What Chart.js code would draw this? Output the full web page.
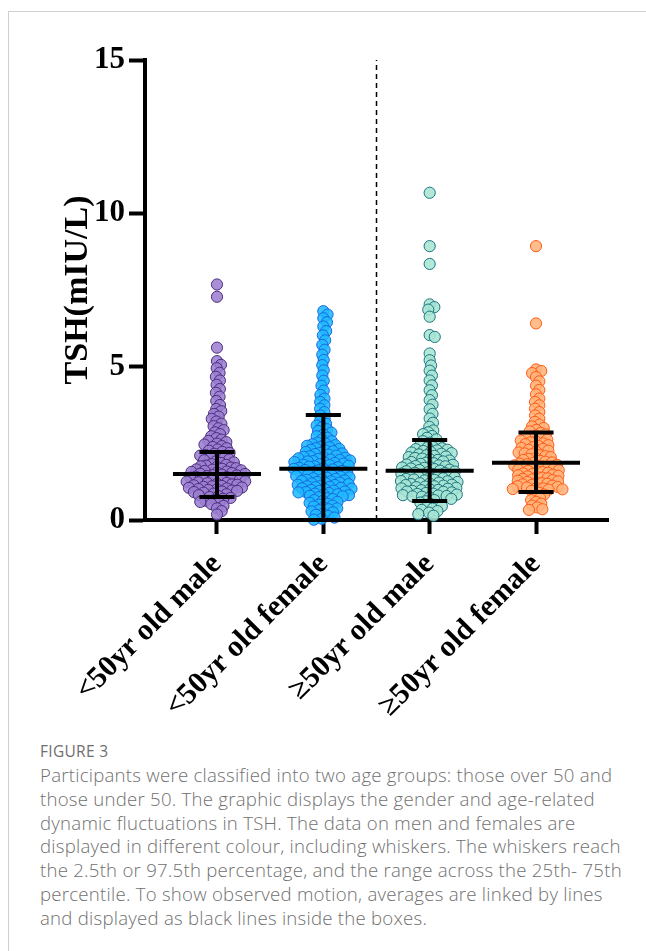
<!DOCTYPE html>
<html>
<head>
<meta charset="utf-8">
<script src="https://cdn.jsdelivr.net/npm/chart.js@4/dist/chart.umd.min.js"></script>
<style>
  html, body { margin: 0; padding: 0; background: #fff; }
  body { width: 646px; height: 951px; position: relative; overflow: hidden; }
  .frame { position: absolute; left: 8px; top: 11px; right: 0; bottom: 0;
           border-left: 1px solid #cfcfcf; border-top: 1px solid #cfcfcf; }
  .plot { position: absolute; left: 0; top: 0; width: 646px; height: 730px; }
  .fig { position: absolute; left: 40px; top: 743px; font-family: "Open Sans", sans-serif;
         font-size: 15.5px; letter-spacing: 0.3px; line-height: 17px; color: #6e6e6e; white-space: nowrap; }
  .cap { position: absolute; left: 40px; top: 763px; font-family: "Open Sans", sans-serif;
         font-size: 18.6px; letter-spacing: 0.25px; line-height: 23.8px; color: #707070; white-space: nowrap; font-weight: 300; }
</style>
</head>
<body>
<div class="frame"></div>
<div class="plot"><canvas id="c" width="646" height="730"></canvas></div>
<div class="fig">FIGURE 3</div>
<div class="cap">Participants were classified into two age groups: those over 50 and<br>those under 50. The graphic displays the gender and age-related<br>dynamic fluctuations in TSH. The data on men and females are<br>displayed in different colour, including whiskers. The whiskers reach<br>the 2.5th or 97.5th percentage, and the range across the 25th- 75th<br>percentile. To show observed motion, averages are linked by lines<br>and displayed as black lines inside the boxes.</div>
<script>
// ---------------- data ----------------
const categories = ['<50yr old male', '<50yr old female', '\u226550yr old male', '\u226550yr old female'];
const yTicks = [0, 5, 10, 15];
const yTitle = 'TSH(mIU/L)';

const under50Male = [7.68, 7.28, 5.62,
  5.18, 5.06, 4.95, 4.80, 4.67, 4.55, 4.41, 4.27, 4.15, 4.02, 3.88, 3.75,
  3.62, 3.55, 3.46, 3.37, 3.30, 3.21, 3.14, 3.06, 2.99, 2.93, 2.86, 2.80, 2.73, 2.67, 2.62,
  2.58, 2.54, 2.49, 2.46, 2.41, 2.38, 2.34, 2.30, 2.26, 2.22,
  2.19, 2.16, 2.12, 2.10, 2.06, 2.03, 2.01, 1.97, 1.95, 1.91, 1.88, 1.86, 1.82, 1.80, 1.77,
  1.75, 1.73, 1.71, 1.69, 1.67, 1.65, 1.64, 1.62, 1.60, 1.58, 1.57, 1.55, 1.53, 1.51, 1.50,
  1.48, 1.46, 1.45, 1.43, 1.41, 1.40, 1.38, 1.36, 1.35, 1.33, 1.31, 1.30, 1.28, 1.26, 1.25,
  1.23, 1.21, 1.20, 1.18, 1.16, 1.15, 1.13, 1.11, 1.10, 1.08, 1.06, 1.05, 1.03, 1.01, 1.00,
  0.98, 0.96, 0.95, 0.93, 0.91,
  0.89, 0.86, 0.84, 0.81, 0.78, 0.75, 0.72, 0.69, 0.66, 0.63, 0.59, 0.56, 0.52,
  0.46, 0.38, 0.29, 0.18];

const under50Female = [6.81, 6.70, 6.58, 6.45, 6.31, 6.16, 6.02, 5.86, 5.71, 5.55, 5.39, 5.22,
  5.05, 4.88, 4.71, 4.54, 4.38, 4.22,
  4.08, 3.96, 3.85, 3.74, 3.63, 3.52, 3.41, 3.31, 3.22,
  3.14, 3.08, 3.02, 2.96, 2.90, 2.85, 2.79, 2.73, 2.68, 2.62, 2.57, 2.52,
  2.49, 2.47, 2.44, 2.42, 2.39, 2.37, 2.34, 2.32, 2.29, 2.27, 2.24, 2.22, 2.19, 2.17, 2.15, 2.13, 2.10, 2.08,
  2.06, 2.04, 2.03, 2.01, 1.99, 1.97, 1.96, 1.94, 1.92, 1.91, 1.89, 1.87, 1.86, 1.84, 1.82, 1.80,
  1.79, 1.77, 1.75, 1.74, 1.72, 1.70, 1.68, 1.67, 1.65, 1.63, 1.62, 1.60, 1.58, 1.56, 1.55, 1.53,
  1.51, 1.50, 1.48, 1.46, 1.44, 1.43, 1.41, 1.39, 1.38, 1.36, 1.34, 1.32, 1.31, 1.29, 1.27, 1.26,
  1.24, 1.22, 1.20, 1.19, 1.17, 1.15, 1.14, 1.12, 1.10, 1.08, 1.07, 1.05, 1.03, 1.02, 1.00, 0.98,
  0.96, 0.95, 0.93, 0.91, 0.90, 0.88, 0.86, 0.84, 0.83, 0.81, 0.79, 0.77,
  0.74, 0.71, 0.68, 0.65, 0.62, 0.59, 0.56, 0.53, 0.50, 0.47, 0.44, 0.41, 0.38, 0.35, 0.32, 0.28,
  0.25, 0.21, 0.17, 0.13, 0.08, 0.04, 0.01];

const over50Male = [10.67, 8.93, 8.35, 7.03, 6.94, 6.86, 6.63, 6.03, 5.97, 5.43,
  5.21, 5.04, 4.87, 4.71, 4.55, 4.39, 4.23, 4.07, 3.91, 3.76, 3.61, 3.46, 3.31, 3.17, 3.04,
  2.92, 2.86, 2.80, 2.74, 2.68, 2.63, 2.57, 2.52, 2.47, 2.42,
  2.38, 2.36, 2.34, 2.31, 2.29, 2.27, 2.25, 2.22, 2.20, 2.18, 2.16, 2.14, 2.11, 2.09, 2.07, 2.05,
  2.02, 2.00, 1.98, 1.96, 1.94, 1.91, 1.89, 1.87, 1.85,
  1.83, 1.81, 1.80, 1.78, 1.76, 1.75, 1.73, 1.71, 1.70, 1.68, 1.66, 1.64, 1.63, 1.61, 1.59, 1.58,
  1.56, 1.54, 1.53, 1.51, 1.49, 1.48, 1.46, 1.44, 1.43, 1.41, 1.39, 1.37, 1.36, 1.34, 1.32, 1.31,
  1.29, 1.27, 1.26, 1.24, 1.22, 1.20, 1.19, 1.17, 1.15, 1.14, 1.12, 1.10, 1.09, 1.07, 1.05, 1.03,
  1.02, 1.00, 0.98, 0.97, 0.95, 0.93, 0.92, 0.90, 0.88, 0.86, 0.85, 0.83, 0.81, 0.80, 0.78, 0.77, 0.76,
  0.73, 0.69, 0.65, 0.61, 0.57, 0.53, 0.49, 0.45, 0.41, 0.37, 0.33, 0.29, 0.24, 0.19, 0.14];

const over50Female = [8.93, 6.41,
  4.91, 4.86, 4.79, 4.66, 4.52, 4.38, 4.24, 4.10,
  3.96, 3.85, 3.74, 3.63, 3.52, 3.41, 3.30, 3.20,
  3.11, 3.05, 3.00, 2.94, 2.89, 2.84, 2.79, 2.75,
  2.71, 2.68, 2.65, 2.62, 2.59, 2.56, 2.53, 2.50, 2.47, 2.44, 2.41, 2.38, 2.35, 2.32, 2.29, 2.26,
  2.23, 2.20, 2.17, 2.14, 2.11, 2.08, 2.05, 2.02, 1.99, 1.96, 1.93, 1.90, 1.88, 1.86,
  1.84, 1.82, 1.80, 1.78, 1.76, 1.74, 1.72, 1.70, 1.68, 1.66, 1.64, 1.62, 1.60, 1.58, 1.56, 1.54,
  1.52, 1.50, 1.48, 1.46, 1.44, 1.42, 1.40, 1.38, 1.36, 1.34, 1.32, 1.30, 1.28, 1.26, 1.24, 1.22,
  1.20, 1.18, 1.16, 1.14, 1.12, 1.10, 1.08, 1.06, 1.04, 1.03, 1.01, 1.00, 0.99,
  0.95, 0.89, 0.83, 0.77, 0.71, 0.65, 0.59, 0.53, 0.47, 0.41, 0.35, 0.33];

const groupMeans = [1.50, 1.67, 1.61, 1.87];
const whiskerUpper = [2.22, 3.42, 2.61, 2.85];
const whiskerLower = [0.75, 0.00, 0.62, 0.91];

const fillColors = ['rgba(156,128,208,0.88)', 'rgba(32,186,255,0.88)', 'rgba(168,229,212,0.88)', 'rgba(255,180,124,0.88)'];
const edgeColors = ['#4b2d80', '#1769e0', '#1b7480', '#ff5a14'];
const groups = [under50Male, under50Female, over50Male, over50Female];
const dividerAfterGroup = 2;

// ---------------- chart ----------------
const MEAN_HALF = 0.414, CAP_HALF = 0.165;
const serif = '"Liberation Serif", "Times New Roman", serif';

function barSegments() {
  const pts = [];
  const gap = { x: null, y: null };
  groupMeans.forEach((m, i) => {
    const g = i + 1;
    pts.push({ x: g - MEAN_HALF, y: m }, { x: g + MEAN_HALF, y: m }, gap);
    pts.push({ x: g, y: whiskerLower[i] }, { x: g, y: whiskerUpper[i] }, gap);
    pts.push({ x: g - CAP_HALF, y: whiskerUpper[i] }, { x: g + CAP_HALF, y: whiskerUpper[i] }, gap);
    pts.push({ x: g - CAP_HALF, y: whiskerLower[i] }, { x: g + CAP_HALF, y: whiskerLower[i] }, gap);
  });
  return pts;
}

const datasets = [];
datasets.push({
  type: 'line', label: 'bars', data: barSegments(), order: -2,
  borderColor: '#000', borderWidth: 4, pointRadius: 0, spanGaps: false,
  borderCapStyle: 'butt', clip: false
});
datasets.push({
  type: 'line', label: 'divider', order: -1,
  data: [{ x: dividerAfterGroup + 0.5, y: yTicks[0] }, { x: dividerAfterGroup + 0.5, y: yTicks[yTicks.length - 1] }],
  borderColor: '#000', borderWidth: 1.5, borderDash: [5, 4], pointRadius: 0, clip: false
});
groups.forEach((vals, i) => {
  datasets.push({
    type: 'scatter', label: categories[i], order: 1,
    data: vals.map(v => ({ x: i + 1, y: v })),
    backgroundColor: fillColors[i], borderColor: edgeColors[i],
    borderWidth: 1, pointRadius: 5.6, pointHoverRadius: 5.6, clip: false
  });
});

const chart = new Chart(document.getElementById('c'), {
  type: 'scatter',
  data: { datasets },
  options: {
    responsive: false, animation: false, events: [],
    layout: { padding: { top: 60, right: 38, left: 0, bottom: 0 } },
    plugins: { legend: { display: false }, tooltip: { enabled: false } },
    scales: {
      x: {
        type: 'linear', min: 0.323, max: 4.677,
        afterBuildTicks: s => { s.ticks = categories.map((_, i) => ({ value: i + 1 })); },
        afterFit: s => { s.height = 210; },
        ticks: {
          autoSkip: false, maxRotation: 45, minRotation: 45, padding: 13,
          color: '#000', font: { family: serif, size: 30, weight: 'bold' },
          callback: v => categories[Math.round(v) - 1] || ''
        },
        grid: { drawOnChartArea: false, drawTicks: true, tickLength: 14, tickWidth: 4, tickColor: '#000' },
        border: { display: true, color: '#000', width: 4 }
      },
      y: {
        type: 'linear', min: yTicks[0], max: yTicks[yTicks.length - 1],
        afterBuildTicks: s => { s.ticks = yTicks.map(v => ({ value: v })); },
        afterFit: s => { s.width = 145; },
        ticks: { padding: 4, color: '#000', font: { family: serif, size: 31, weight: 'bold' } },
        grid: { drawOnChartArea: false, drawTicks: true, tickLength: 16, tickWidth: 4, tickColor: '#000' },
        border: { display: true, color: '#000', width: 4 },
        title: { display: true, text: yTitle, color: '#000', padding: { top: 58, bottom: 0 },
                 font: { family: serif, size: 34, weight: 'bold' } }
      }
    }
  }
});

// beeswarm layout in pixel space, mapped back through the library's scales
function swarmOffsets(values, d, yScale) {
  const pts = values.map((v, i) => ({ i, py: yScale.getPixelForValue(v), dx: 0 }));
  const order = pts.slice().sort((a, b) => a.py - b.py);
  const placed = [];
  for (const p of order) {
    const near = placed.filter(q => Math.abs(q.py - p.py) < d);
    const cands = [0];
    near.forEach(q => {
      const off = Math.sqrt(d * d - (q.py - p.py) ** 2);
      cands.push(q.dx + off, q.dx - off);
    });
    cands.sort((a, b) => Math.abs(a) - Math.abs(b));
    for (const c of cands) {
      if (near.every(q => (q.dx - c) ** 2 + (q.py - p.py) ** 2 >= d * d - 0.01)) { p.dx = c; break; }
    }
    placed.push(p);
  }
  return pts.map(p => p.dx);
}

const xs = chart.scales.x, ys = chart.scales.y;
groups.forEach((vals, i) => {
  const offs = swarmOffsets(vals, 5.4, ys);
  const cx = xs.getPixelForValue(i + 1);
  chart.data.datasets[i + 2].data = vals.map((v, k) => ({ x: xs.getValueForPixel(cx + offs[k]), y: v }));
});
chart.update();
</script>
</body>
</html>
